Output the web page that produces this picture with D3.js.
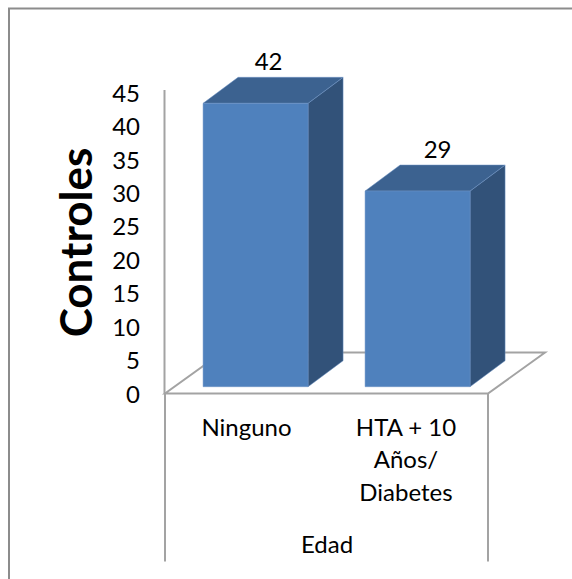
<!DOCTYPE html>
<html>
<head>
<meta charset="utf-8">
<script src="https://cdn.jsdelivr.net/npm/d3@7/dist/d3.min.js"></script>
<style>
html, body { margin: 0; padding: 0; background: #fff; }
svg { display: block; }
text { font-family: Lato, "Open Sans", sans-serif; fill: #000; }
</style>
</head>
<body>
<svg id="chart" width="572" height="579"></svg>
<script>
const categories = ["Ninguno", "HTA + 10 Años/ Diabetes"];
const categoryLines = [["Ninguno"], ["HTA + 10", "Años/", "Diabetes"]];
const values = [42, 29];
const yTicks = [0, 5, 10, 15, 20, 25, 30, 35, 40, 45];
const yTitle = "Controles";
const groupLabel = "Edad";

const svg = d3.select("#chart");
const grey = "#a3a3a3";
const textSize = 24;

// Chart frame: only the top and left edges fall inside the page
svg.append("path").attr("d", "M9,579V8.5H572")
  .attr("fill", "none").attr("stroke", "#8c8c8c").attr("stroke-width", 2);

// Oblique projection offset of the 3D box
const depth = { dx: 35, dy: -26 };
const floorDepth = { dx: 57, dy: -41 };
const frontLeft = 165, frontRight = 488, floorY = 393.5;

// Scale for the axis labels on the front wall; bars stand a little behind it
const yAxisScale = d3.scaleLinear().domain([0, 45]).range([394, 93]);
const yBar = d3.scaleLinear().domain([0, 42]).range([386.7, 103.3]);
const x = d3.scaleBand().domain(categories).range([frontLeft, frontRight])
  .paddingInner(57 / 162).paddingOuter(28 / 162).align(0.68);

// Floor
const floorPts = [
  [frontLeft, floorY], [frontRight, floorY],
  [frontRight + floorDepth.dx, floorY + floorDepth.dy], [frontLeft + floorDepth.dx, floorY + floorDepth.dy]
];
svg.append("path").attr("d", d3.line()(floorPts) + "Z")
  .attr("fill", "none").attr("stroke", grey).attr("stroke-width", 2);

// Value axis line and category separators
svg.append("line").attr("x1", frontLeft - 0.5).attr("x2", frontLeft - 0.5).attr("y1", 90).attr("y2", floorY)
  .attr("stroke", grey).attr("stroke-width", 2);
[frontLeft, frontRight].forEach(px => {
  svg.append("line").attr("x1", px).attr("x2", px).attr("y1", floorY).attr("y2", 561.5)
    .attr("stroke", grey).attr("stroke-width", 2);
});

// Bars: side, top and front faces
const labelShift = [13, 20];
const bars = svg.append("g").selectAll("g").data(categories.map((c, i) => ({ c, v: values[i], i }))).join("g");
bars.each(function (d) {
  const g = d3.select(this);
  const x0 = x(d.c), x1 = x0 + x.bandwidth(), y0 = yBar(0), y1 = yBar(d.v);
  const face = (pts, fill) => g.append("path").attr("d", d3.line()(pts) + "Z").attr("fill", fill)
    .attr("stroke", "#6d93c4").attr("stroke-width", 0.5);
  face([[x1, y1], [x1 + depth.dx, y1 + depth.dy], [x1 + depth.dx, y0 + depth.dy], [x1, y0]], "#325279");
  face([[x0, y1], [x0 + depth.dx, y1 + depth.dy], [x1 + depth.dx, y1 + depth.dy], [x1, y1]], "#3c6290");
  face([[x0, y0], [x0, y1], [x1, y1], [x1, y0]], "#4f81bd");
  g.append("text").attr("x", (x0 + x1) / 2 + labelShift[d.i]).attr("y", y1 + depth.dy - 7)
    .attr("text-anchor", "middle").attr("font-size", textSize).text(d.v);
});

// Value axis labels
svg.append("g").selectAll("text").data(yTicks).join("text")
  .attr("x", 140).attr("y", d => yAxisScale(d)).attr("dy", "0.36em")
  .attr("text-anchor", "end").attr("font-size", textSize).text(d => d);

// Axis title
svg.append("text").attr("transform", "translate(92,242.5) rotate(-90)")
  .attr("text-anchor", "middle").attr("font-size", 44).attr("font-weight", 700).text(yTitle);

// Category labels
const labelCentres = [246.5, 406];
svg.append("g").selectAll("text").data(categoryLines).join("text")
  .attr("text-anchor", "middle").attr("font-size", textSize)
  .each(function (lines, i) {
    d3.select(this).selectAll("tspan").data(lines).join("tspan")
      .attr("x", labelCentres[i]).attr("y", (_, j) => 436 + j * 32.4).text(l => l);
  });

svg.append("text").attr("x", 327).attr("y", 552.5).attr("text-anchor", "middle").attr("font-size", textSize).text(groupLabel);
</script>
</body>
</html>
